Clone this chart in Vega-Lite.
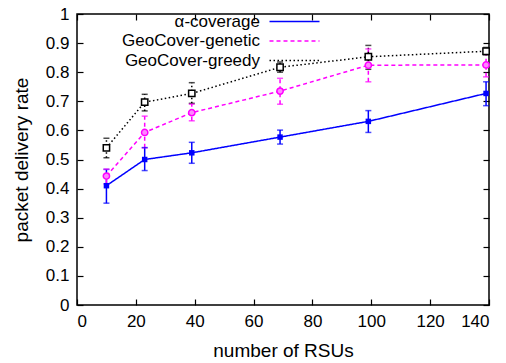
{
  "$schema": "https://vega.github.io/schema/vega-lite/v6.json",
  "width": 412,
  "height": 291,
  "autosize": "none",
  "padding": {"left": 77, "top": 14, "right": 17, "bottom": 58},
  "background": "white",
  "config": {
    "font": "Liberation Sans",
    "view": {"stroke": "black", "strokeWidth": 1.5},
    "axis": {
      "grid": false,
      "domain": false,
      "tickColor": "black",
      "tickSize": -6,
      "tickWidth": 1.2,
      "labelFont": "Liberation Sans",
      "labelFontSize": 17,
      "labelColor": "black",
      "labelPadding": 14,
      "titleFont": "Liberation Sans",
      "titleFontSize": 19,
      "titleFontWeight": "normal",
      "titleColor": "black"
    },
    "legend": {
      "labelFont": "Liberation Sans",
      "labelFontSize": 17,
      "labelColor": "black"
    }
  },
  "data": {
    "values": [
      {"series": "α-coverage", "rsu": 10, "rate": 0.41, "lo": 0.35, "hi": 0.466},
      {"series": "α-coverage", "rsu": 23, "rate": 0.50, "lo": 0.462, "hi": 0.541},
      {"series": "α-coverage", "rsu": 39, "rate": 0.523, "lo": 0.487, "hi": 0.559},
      {"series": "α-coverage", "rsu": 69, "rate": 0.577, "lo": 0.553, "hi": 0.601},
      {"series": "α-coverage", "rsu": 99, "rate": 0.631, "lo": 0.593, "hi": 0.668},
      {"series": "α-coverage", "rsu": 139, "rate": 0.727, "lo": 0.685, "hi": 0.767},
      {"series": "GeoCover-genetic", "rsu": 10, "rate": 0.443, "lo": 0.416, "hi": 0.467},
      {"series": "GeoCover-genetic", "rsu": 23, "rate": 0.593, "lo": 0.54, "hi": 0.649},
      {"series": "GeoCover-genetic", "rsu": 39, "rate": 0.661, "lo": 0.633, "hi": 0.69},
      {"series": "GeoCover-genetic", "rsu": 69, "rate": 0.735, "lo": 0.69, "hi": 0.779},
      {"series": "GeoCover-genetic", "rsu": 99, "rate": 0.824, "lo": 0.767, "hi": 0.88},
      {"series": "GeoCover-genetic", "rsu": 139, "rate": 0.825, "lo": 0.784, "hi": 0.866},
      {"series": "GeoCover-greedy", "rsu": 10, "rate": 0.54, "lo": 0.506, "hi": 0.573},
      {"series": "GeoCover-greedy", "rsu": 23, "rate": 0.697, "lo": 0.667, "hi": 0.724},
      {"series": "GeoCover-greedy", "rsu": 39, "rate": 0.727, "lo": 0.693, "hi": 0.764},
      {"series": "GeoCover-greedy", "rsu": 69, "rate": 0.817, "lo": 0.80, "hi": 0.835},
      {"series": "GeoCover-greedy", "rsu": 99, "rate": 0.853, "lo": 0.81, "hi": 0.892},
      {"series": "GeoCover-greedy", "rsu": 139, "rate": 0.872, "lo": 0.86, "hi": 0.885}
    ]
  },
  "resolve": {"axis": {"x": "independent", "y": "independent"}},
  "layer": [
    {
      "mark": {"type": "line", "strokeWidth": 1.5},
      "encoding": {
        "x": {"field": "rsu", "type": "quantitative", "title": "number of RSUs",
              "scale": {"domain": [0, 140], "nice": false},
              "axis": {"values": [0, 20, 40, 60, 80, 100, 120, 140], "titlePadding": 12}},
        "y": {"field": "rate", "type": "quantitative", "title": "packet delivery rate",
              "scale": {"domain": [0, 1], "nice": false},
              "axis": {"values": [0, 0.1, 0.2, 0.3, 0.4, 0.5, 0.6, 0.7, 0.8, 0.9, 1], "format": "~g", "titlePadding": 14}},
        "color": {"field": "series", "type": "nominal", "title": null,
                  "scale": {"domain": ["α-coverage", "GeoCover-genetic", "GeoCover-greedy"], "range": ["#0000ff", "#ff00ff", "#000000"]},
                  "legend": {"orient": "none", "legendX": 209, "legendY": -1, "padding": 0,
                             "symbolType": "M-5,0H5", "symbolSize": 100, "symbolStrokeWidth": 1.5,
                             "labelAlign": "right", "labelOffset": -43, "rowPadding": 1.5}},
        "strokeDash": {"field": "series", "type": "nominal", "title": null,
                       "scale": {"domain": ["α-coverage", "GeoCover-genetic", "GeoCover-greedy"], "range": [[1, 0], [4, 3], [1.5, 2.5]]}}
      }
    },
    {
      "mark": {"type": "rule", "strokeWidth": 1.5},
      "encoding": {
        "x": {"field": "rsu", "type": "quantitative", "axis": null},
        "y": {"field": "lo", "type": "quantitative", "axis": null},
        "y2": {"field": "hi"},
        "color": {"field": "series", "type": "nominal", "legend": null},
        "strokeDash": {"field": "series", "type": "nominal", "legend": null}
      }
    },
    {
      "mark": {"type": "tick", "orient": "horizontal", "size": 6, "thickness": 1.5},
      "encoding": {
        "x": {"field": "rsu", "type": "quantitative",
              "axis": {"orient": "top", "labels": false, "title": null, "values": [0, 20, 40, 60, 80, 100, 120, 140]}},
        "y": {"field": "lo", "type": "quantitative",
              "axis": {"orient": "right", "labels": false, "title": null, "values": [0, 0.1, 0.2, 0.3, 0.4, 0.5, 0.6, 0.7, 0.8, 0.9, 1]}},
        "color": {"field": "series", "type": "nominal", "legend": null}
      }
    },
    {
      "mark": {"type": "tick", "orient": "horizontal", "size": 6, "thickness": 1.5},
      "encoding": {
        "x": {"field": "rsu", "type": "quantitative", "axis": null},
        "y": {"field": "hi", "type": "quantitative", "axis": null},
        "color": {"field": "series", "type": "nominal", "legend": null}
      }
    },
    {
      "transform": [{"filter": "datum.series === 'α-coverage'"}],
      "mark": {"type": "point", "shape": "square", "filled": true, "color": "#0000ff", "size": 30, "opacity": 1},
      "encoding": {
        "x": {"field": "rsu", "type": "quantitative", "axis": null},
        "y": {"field": "rate", "type": "quantitative", "axis": null}
      }
    },
    {
      "transform": [{"filter": "datum.series === 'GeoCover-genetic'"}],
      "mark": {"type": "point", "shape": "circle", "filled": false, "stroke": "#ff00ff", "fill": "#ff88ff", "fillOpacity": 1, "strokeWidth": 1.5, "size": 40, "opacity": 1},
      "encoding": {
        "x": {"field": "rsu", "type": "quantitative", "axis": null},
        "y": {"field": "rate", "type": "quantitative", "axis": null}
      }
    },
    {
      "transform": [{"filter": "datum.series === 'GeoCover-greedy'"}],
      "mark": {"type": "point", "shape": "square", "filled": false, "stroke": "#000000", "fill": "#ffffff", "fillOpacity": 1, "strokeWidth": 1.5, "size": 40, "opacity": 1},
      "encoding": {
        "x": {"field": "rsu", "type": "quantitative", "axis": null},
        "y": {"field": "rate", "type": "quantitative", "axis": null}
      }
    }
  ]
}
